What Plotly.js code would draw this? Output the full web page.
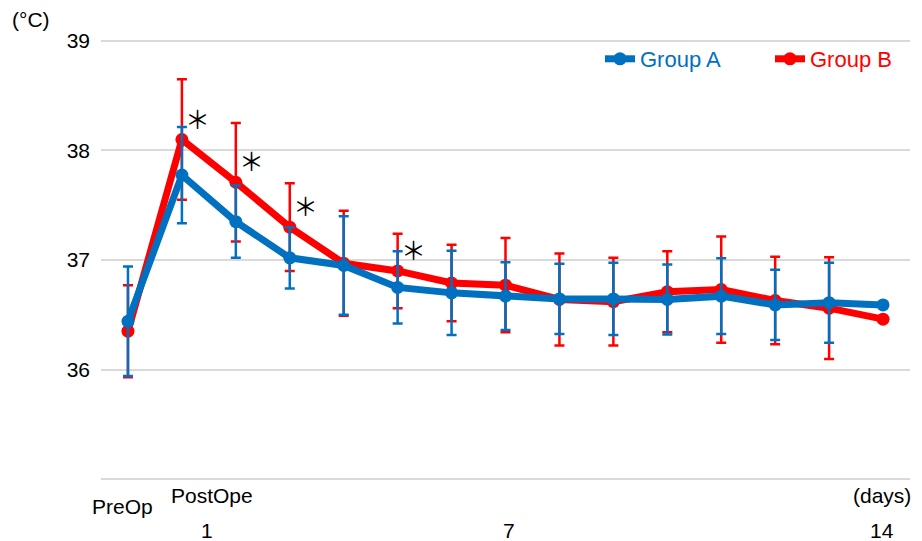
<!DOCTYPE html>
<html>
<head>
<meta charset="utf-8">
<script src="https://cdn.plot.ly/plotly-3.0.1.min.js"></script>
<style>
  html, body { margin: 0; padding: 0; background: #fff; }
  #chart { width: 922px; height: 541px; }
</style>
</head>
<body>
<div id="chart"></div>
<script>
// ---- data ----
const categories = ['PreOp','1','2','3','4','5','6','7','8','9','10','11','12','13','14'];
const groupAName = 'Group A';
const groupBName = 'Group B';
const groupAMean = [36.44, 37.775, 37.35, 37.02, 36.95, 36.75, 36.70, 36.67, 36.645, 36.645, 36.64, 36.67, 36.59, 36.61, 36.59];
const groupASD   = [0.50, 0.44, 0.33, 0.28, 0.45, 0.33, 0.385, 0.31, 0.32, 0.33, 0.32, 0.345, 0.32, 0.365];
const groupBMean = [36.35, 38.10, 37.71, 37.30, 36.97, 36.90, 36.79, 36.77, 36.64, 36.62, 36.71, 36.73, 36.63, 36.56, 36.46];
const groupBSD   = [0.42, 0.55, 0.54, 0.40, 0.48, 0.34, 0.35, 0.43, 0.42, 0.40, 0.37, 0.485, 0.40, 0.465];
const significantIdx = [1, 2, 3, 5];
const yTickVals = [35, 36, 37, 38, 39];
const yTickText = ['', '36', '37', '38', '39'];
const yUnit = '(°C)';
const xLabels = ['PreOp', 'PostOpe', '1', '7', '14', '(days)'];

// ---- styles ----
const BLUE = '#0070C0';
const RED = '#FF0000';
const FONT = 'Liberation Sans, Arial, sans-serif';
const W = 922, H = 541;
const M = { l: 101, r: 12, t: 30, b: 51 };
const pw = W - M.l - M.r, ph = H - M.t - M.b;
const px = x => (x - M.l) / pw;
const py = y => (H - M.b - y) / ph;

function trace(name, mean, sd, color, legend) {
  return {
    type: 'scatter', mode: 'lines+markers',
    x: categories, y: mean,
    name: '<span style="color:' + color + '">' + name + '</span>',
    legend: legend,
    line: { color: color, width: 7 },
    marker: { color: color, size: 13 },
    error_y: { type: 'data', array: sd, visible: true, color: color, thickness: 2.5, width: 5 },
    hoverinfo: 'skip'
  };
}

const data = [
  trace(groupBName, groupBMean, groupBSD, RED, 'legend2'),
  trace(groupAName, groupAMean, groupASD, BLUE, 'legend')
];

const labelPos = [
  { x: 122, y: 506 }, { x: 212, y: 496 }, { x: 207, y: 530 },
  { x: 509, y: 530 }, { x: 882, y: 530 }, { x: 882, y: 496 }
];
const annotations = xLabels.map((t, i) => ({
  text: t, xref: 'paper', yref: 'paper', x: px(labelPos[i].x), y: py(labelPos[i].y),
  xanchor: 'center', yanchor: 'middle', showarrow: false,
  font: { family: FONT, size: 21, color: '#000' }
}));
annotations.push({
  text: yUnit, xref: 'paper', yref: 'paper', x: px(31), y: py(20),
  xanchor: 'center', yanchor: 'middle', showarrow: false,
  font: { family: FONT, size: 21, color: '#000' }
});
significantIdx.forEach(i => {
  annotations.push({
    text: '＊', xref: 'x', yref: 'y', x: categories[i], y: groupBMean[i],
    xshift: 16, yshift: 22, showarrow: false, xanchor: 'center', yanchor: 'middle',
    font: { family: 'Noto Sans CJK JP, sans-serif', size: 25, color: '#000' }
  });
});

const legendBase = {
  orientation: 'h', xref: 'paper', yref: 'paper', xanchor: 'left', yanchor: 'middle',
  y: py(59), bgcolor: 'rgba(0,0,0,0)', font: { family: FONT, size: 22 }
};

const layout = {
  width: W, height: H,
  margin: M,
  paper_bgcolor: '#fff', plot_bgcolor: '#fff',
  font: { family: FONT, size: 21, color: '#000' },
  showlegend: true,
  legend: Object.assign({}, legendBase, { x: px(600) }),
  legend2: Object.assign({}, legendBase, { x: px(770) }),
  xaxis: {
    type: 'category', range: [-0.5, 14.5], showgrid: false, zeroline: false,
    showline: false, showticklabels: false, ticks: '', fixedrange: true
  },
  yaxis: {
    range: [34.9, 39.1], tickmode: 'array', tickvals: yTickVals, ticktext: yTickText,
    showgrid: true, gridcolor: '#d9d9d9', gridwidth: 2, zeroline: false, showline: false,
    ticks: '', ticklabelstandoff: 10, tickfont: { family: FONT, size: 21, color: '#000' },
    fixedrange: true
  },
  annotations: annotations
};

Plotly.newPlot('chart', data, layout, { staticPlot: true, displayModeBar: false });
</script>
</body>
</html>
